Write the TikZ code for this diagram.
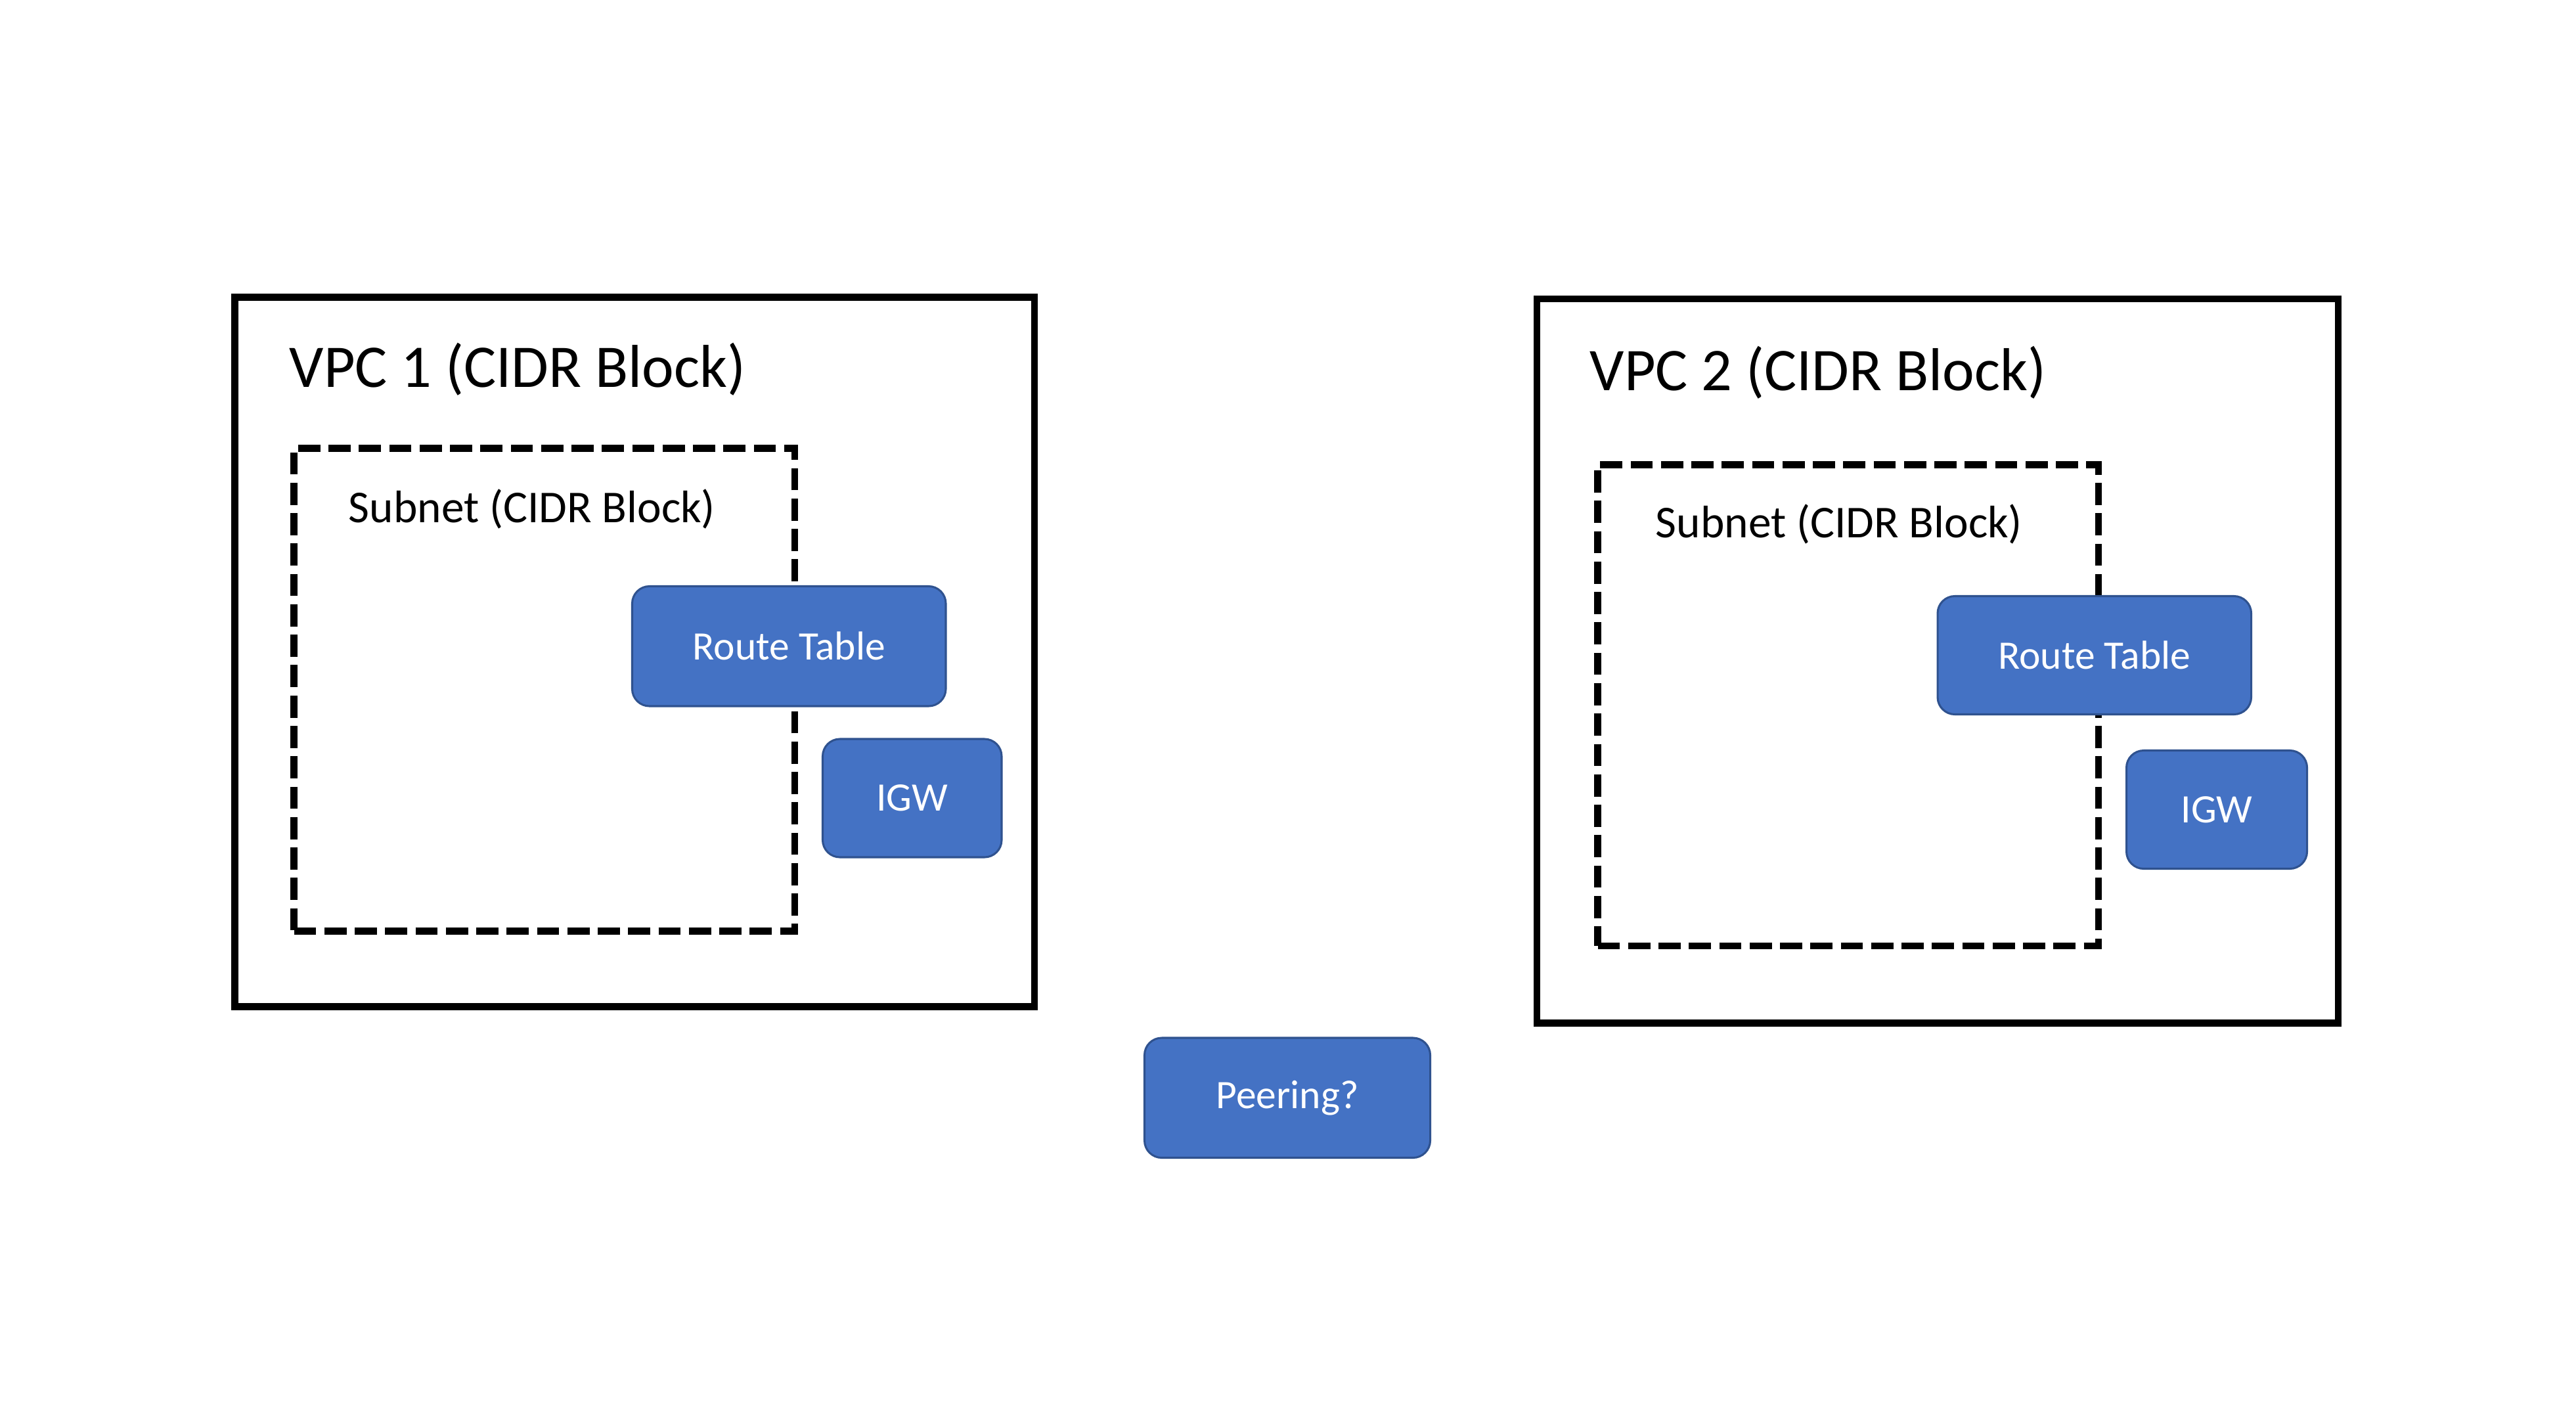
\documentclass[tikz,border=0pt]{standalone}
\usepackage{fontspec}
\setmainfont{Carlito}

\definecolor{boxBlue}{HTML}{4472C4}
\definecolor{boxEdge}{HTML}{2F528F}

\tikzset{
	vpcBox/.style = {draw=black, line width=2.4pt, inner sep=0pt},
	subnetBox/.style = {draw=black, line width=2.4pt, dash pattern=on 2.7mm off 1mm, inner sep=0pt},
	blueBox/.style = {draw=boxEdge, line width=0.7pt, fill=boxBlue, rounded corners=2.1mm, text=white, inner sep=0pt, font=\fontsize{14}{16}\selectfont},
	titleText/.style = {anchor=west, inner sep=0pt, font=\fontsize{21}{24}\selectfont},
	subnetText/.style = {anchor=west, inner sep=0pt, font=\fontsize{15.8}{18}\selectfont}
}

\begin{document}
\begin{tikzpicture} [x = 0.2mm, y = -0.2mm]

	% Frame.
	\fill [white] (0, 0) rectangle (1568.8, 857.6);
	\useasboundingbox (0, 0) rectangle (1568.8, 857.6);

% VPC 1.

	\node [vpcBox, minimum width = 97.4mm, minimum height = 86.4mm] (vpcOne) at (386.5, 397) {};
	\node [titleText] (vpcOneTitle) at (176, 225) {VPC 1 (CIDR Block)};
	
	\node [subnetBox, minimum width = 61mm, minimum height = 58.8mm] (subnetOne) at (331.5, 420) {};
	\node [subnetText] (subnetOneLabel) at (212, 310) {Subnet (CIDR Block)};
	
	\node [blueBox, minimum width = 38.2mm, minimum height = 14.6mm] (routeOne) at (480.5, 393.5) {Route Table};
	\node [blueBox, minimum width = 21.8mm, minimum height = 14.4mm] (igwOne) at (555.5, 486) {IGW};

% VPC 2.

	\node [vpcBox, minimum width = 97.6mm, minimum height = 88.2mm] (vpcTwo) at (1180, 402.5) {};
	\node [titleText] (vpcTwoTitle) at (968, 227) {VPC 2 (CIDR Block)};
	
	\node [subnetBox, minimum width = 61mm, minimum height = 58.6mm] (subnetTwo) at (1125.5, 429.5) {};
	\node [subnetText] (subnetTwoLabel) at (1008, 319) {Subnet (CIDR Block)};
	
	\node [blueBox, minimum width = 38.2mm, minimum height = 14.4mm] (routeTwo) at (1275.5, 399) {Route Table};
	\node [blueBox, minimum width = 22mm, minimum height = 14.4mm] (igwTwo) at (1350, 493) {IGW};

% Peering.

	\node [blueBox, minimum width = 34.8mm, minimum height = 14.6mm] (peering) at (784, 668.5) {Peering?};

\end{tikzpicture}
\end{document}
